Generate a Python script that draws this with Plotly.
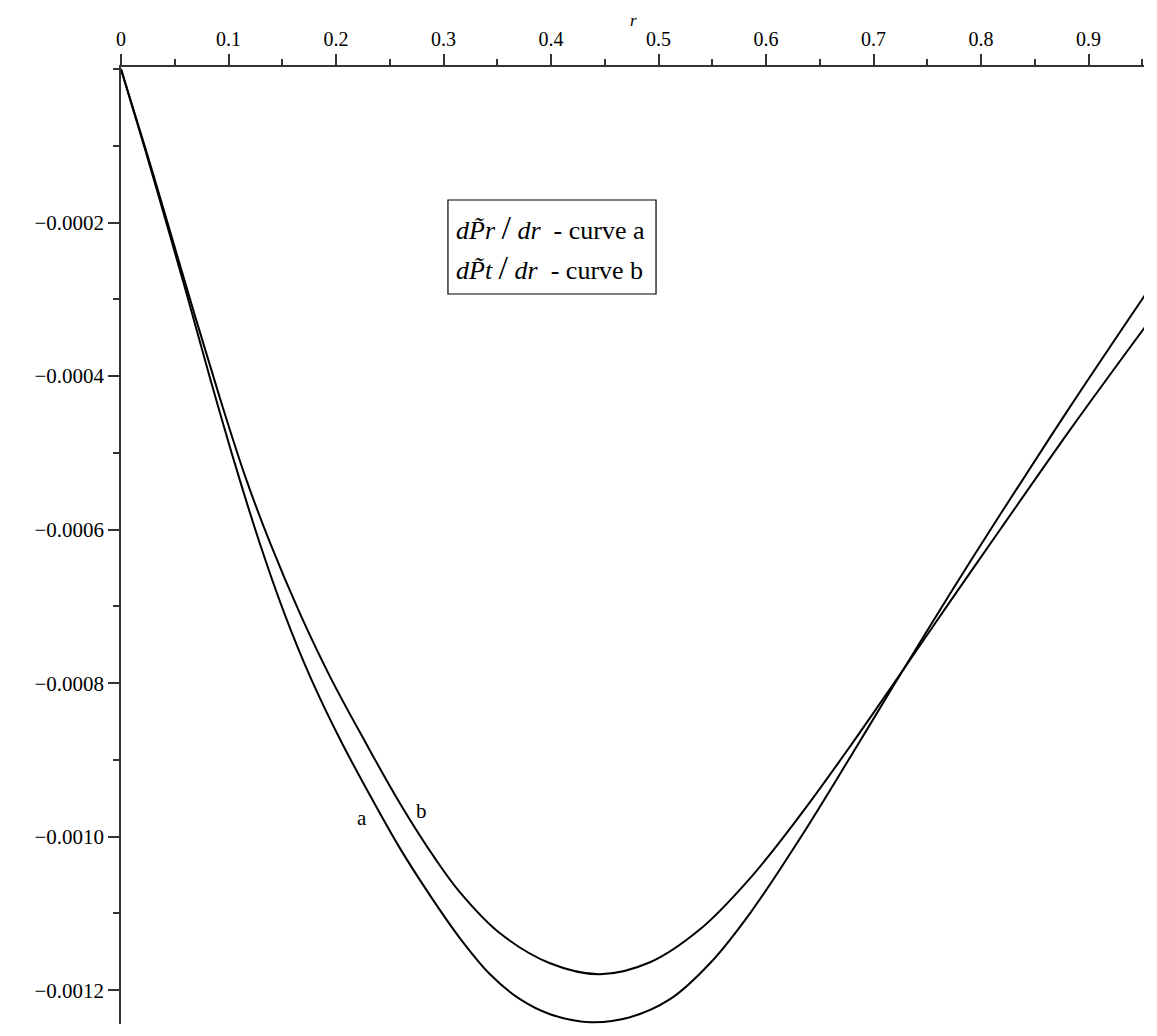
import plotly.graph_objects as go

# Curve a: dP~r/dr
r_a = [0, 0.02233, 0.04093, 0.05953, 0.08279, 0.10605, 0.12930, 0.15256, 0.17581, 0.20372,
       0.23163, 0.25953, 0.28744, 0.31535, 0.34326, 0.37116, 0.39907, 0.43628, 0.47349,
       0.51070, 0.54791, 0.58512, 0.63163, 0.67814, 0.71814, 0.77116, 0.81767, 0.88279,
       0.95256]
dpr = [0, -0.00010436, -0.00019414, -0.00028523, -0.00040234, -0.00051464, -0.00061874,
       -0.00071139, -0.00079115, -0.00087313, -0.00094613, -0.00101522, -0.00107638,
       -0.00113233, -0.00117918, -0.00121171, -0.00123123, -0.00124164, -0.00123513,
       -0.00121171, -0.00116487, -0.00109980, -0.00100221, -0.00089681, -0.00080442,
       -0.00068341, -0.00058061, -0.00044008, -0.00029434]

# Curve b: dP~t/dr
r_b = [0, 0.02326, 0.04558, 0.06884, 0.09209, 0.11535, 0.13860, 0.16651, 0.19442, 0.22698,
       0.25953, 0.29209, 0.31535, 0.35256, 0.39907, 0.44558, 0.49209, 0.53860, 0.58512,
       0.63163, 0.67814, 0.71814, 0.77116, 0.81767, 0.88279, 0.95256]
dpt = [0, -0.00010566, -0.00021106, -0.00032166, -0.00042902, -0.00052987, -0.00061705,
       -0.00070944, -0.00079141, -0.00087599, -0.00095667, -0.00102824, -0.00107248,
       -0.00112583, -0.00116487, -0.00117918, -0.00116357, -0.00112063, -0.00105426,
       -0.00097228, -0.00088250, -0.00080182, -0.00069382, -0.00060013, -0.00047000,
       -0.00033598]

x_ticks = [0, 0.1, 0.2, 0.3, 0.4, 0.5, 0.6, 0.7, 0.8, 0.9]
x_labels = ["0", "0.1", "0.2", "0.3", "0.4", "0.5", "0.6", "0.7", "0.8", "0.9"]
y_ticks = [-0.0002, -0.0004, -0.0006, -0.0008, -0.0010, -0.0012]
y_labels = ["\u22120.0002", "\u22120.0004", "\u22120.0006", "\u22120.0008", "\u22120.0010", "\u22120.0012"]

FONT = "Liberation Serif, Times New Roman, serif"
AX = "#333333"

fig = go.Figure()
fig.add_trace(go.Scatter(x=r_a, y=dpr, mode="lines", name="a",
                         line=dict(color="black", width=2, shape="spline", smoothing=1.0)))
fig.add_trace(go.Scatter(x=r_b, y=dpt, mode="lines", name="b",
                         line=dict(color="black", width=2, shape="spline", smoothing=1.0)))

fig.update_layout(
    width=1157, height=1036,
    margin=dict(l=121, r=13, t=67, b=12),
    paper_bgcolor="white", plot_bgcolor="white",
    showlegend=False,
    font=dict(family=FONT, size=20, color="black"),
    xaxis=dict(
        side="top", range=[0, 0.9516], showgrid=False, zeroline=False,
        showline=True, linecolor=AX, linewidth=1.5,
        tickvals=x_ticks, ticktext=x_labels, ticks="outside", ticklen=11,
        tickwidth=1.5, tickcolor=AX,
        minor=dict(dtick=0.05, tick0=0, ticks="outside", ticklen=6, tickwidth=1.5, tickcolor=AX),
        tickfont=dict(family=FONT, size=20),
    ),
    yaxis=dict(
        range=[-0.001244, 0.0000027], showgrid=False, zeroline=False,
        showline=True, linecolor=AX, linewidth=1.5,
        tickvals=y_ticks, ticktext=y_labels, ticks="outside", ticklen=11,
        tickwidth=1.5, tickcolor=AX,
        minor=dict(dtick=0.0001, tick0=0, ticks="outside", ticklen=6, tickwidth=1.5, tickcolor=AX),
        tickfont=dict(family=FONT, size=21),
    ),
)

# axis title "r"
fig.add_annotation(xref="paper", yref="paper", x=0.5005, y=1.049, xanchor="center", yanchor="middle",
                   text="<i>r</i>", showarrow=False, font=dict(family=FONT, size=17))

# legend box
fig.add_shape(type="rect", xref="paper", yref="paper", x0=0.3196, x1=0.5230, y0=0.7628, y1=0.8610,
              line=dict(color="black", width=1.2), fillcolor="white", layer="below")
line1 = "<i>d</i><i>P\u0303r</i> <span style='font-size:34px'>/</span> <i>dr</i>&nbsp; - curve a"
line2 = "<i>d</i><i>P\u0303t</i> <span style='font-size:34px'>/</span> <i>dr</i>&nbsp; - curve b"
fig.add_annotation(xref="paper", yref="paper", x=0.3255, y=0.8318, xanchor="left", yanchor="middle",
                   text=line1, showarrow=False, font=dict(family=FONT, size=26))
fig.add_annotation(xref="paper", yref="paper", x=0.3255, y=0.7900, xanchor="left", yanchor="middle",
                   text=line2, showarrow=False, font=dict(family=FONT, size=26))

# curve labels
fig.add_annotation(xref="paper", yref="paper", x=0.2356, y=0.2153, xanchor="center", yanchor="middle",
                   text="a", showarrow=False, font=dict(family=FONT, size=21))
fig.add_annotation(xref="paper", yref="paper", x=0.2942, y=0.2226, xanchor="center", yanchor="middle",
                   text="b", showarrow=False, font=dict(family=FONT, size=21))

fig.write_html("out.html")
